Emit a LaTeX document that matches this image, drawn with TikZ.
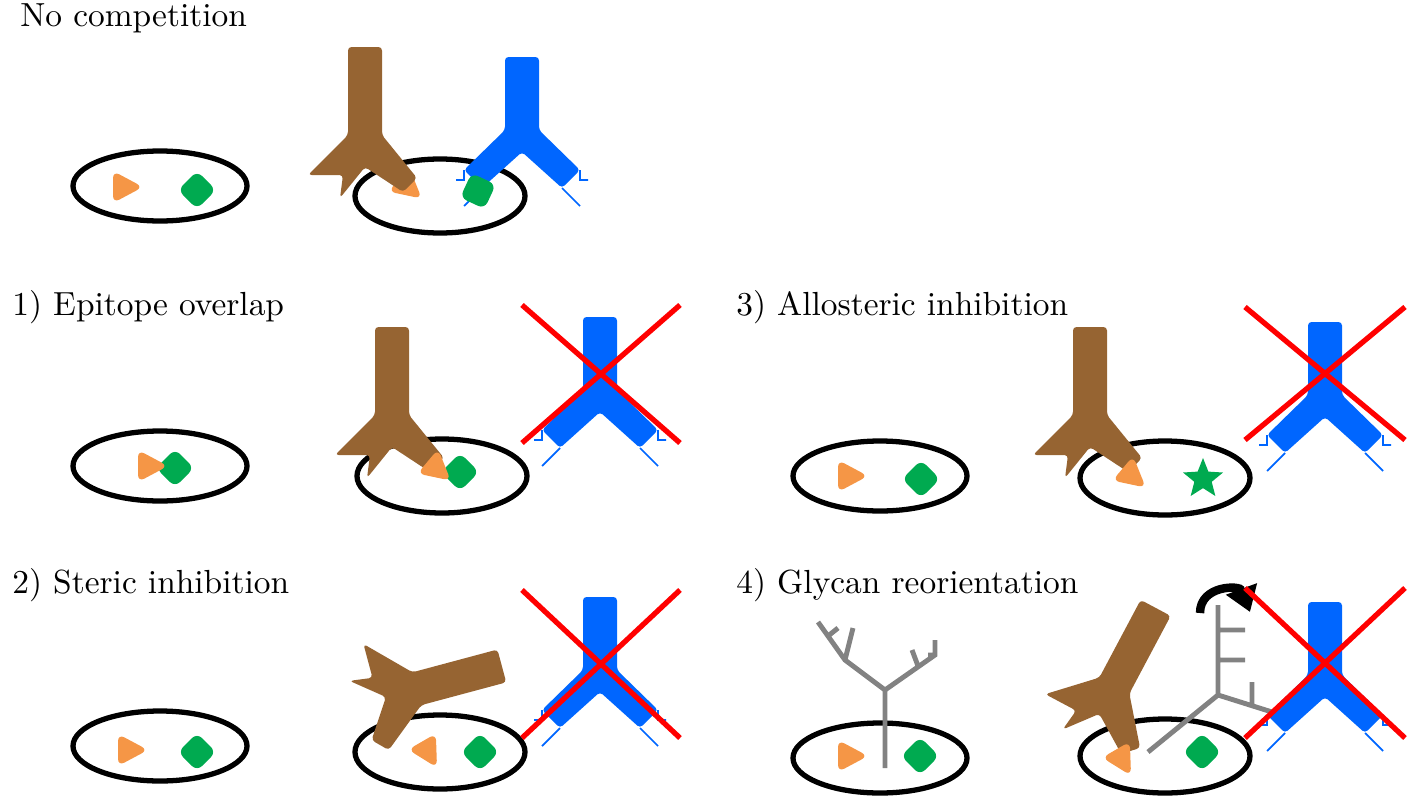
\documentclass[tikz,border=0pt]{standalone}
\usepackage{tikz}
\usetikzlibrary{arrows.meta, shapes.geometric}
\definecolor{abbrown}{RGB}{150,100,50}
\definecolor{abblue}{RGB}{0,102,255}
\definecolor{eporange}{RGB}{245,150,70}
\definecolor{epgreen}{RGB}{0,170,80}
\definecolor{glygray}{RGB}{130,130,130}
\tikzset{
  cell/.style={draw=black, line width=1.5pt},
  nox/.style={draw=red, line width=1.5pt},
  glycan/.style={draw=glygray, line width=1.4pt},
  title/.style={anchor=west, font=\fontsize{9.5}{11}\selectfont},
  pics/brownab/.style={code={
    \fill[abbrown, rounded corners=1pt] (-17,-93) -- (17,-93) -- (17,-5) -- (52,38) -- (38,52)
      -- (0,27) -- (-25,58) -- (-22,35) -- (-57,35) -- (-17,-5) -- cycle;}},
  pics/blueab/.style={code={
    \fill[abblue, rounded corners=1pt] (-17,-83) -- (17,-83) -- (17,-10) -- (58,30) -- (40,48)
      -- (0,12) -- (-40,48) -- (-58,30) -- (-17,-10) -- cycle;
    \draw[abblue, line width=0.5pt] (58,30) -- (58,40) -- (66,40) (40,48) -- (58,66)
      (-58,30) -- (-58,40) -- (-66,40) (-40,48) -- (-58,66);}},
  pics/tri/.style={code={
    \fill[eporange, rounded corners=2pt] (-12,-16) -- (18,0) -- (-12,16) -- cycle;}},
  pics/dia/.style={code={
    \fill[epgreen, rounded corners=2pt] (0,-19) -- (19,0) -- (0,19) -- (-19,0) -- cycle;}}
}
\begin{document}
\begin{tikzpicture}[x=0.01cm, y=-0.01cm]
\useasboundingbox (0,0) rectangle (1412,800);
% titles
\node[title] (t0) at (8,18) {No competition};
\node[title] (t1) at (0,307) {1) Epitope overlap};
\node[title] (t2) at (0,585) {2) Steric inhibition};
\node[title] (t3) at (724,307) {3) Allosteric inhibition};
\node[title] (t4) at (724,585) {4) Glycan reorientation};

% no competition
\draw[cell] (160,186) ellipse (87 and 35);
\pic at (125,187) {tri};
\pic at (197,190) {dia};
\draw[cell] (440,196) ellipse (85 and 37);
\pic[rotate=-40] at (408,187) {tri};
\pic at (522,140) {blueab};
\pic[rotate=20] at (478,191) {dia};
\pic at (365,140) {brownab};

% 1) epitope overlap
\draw[cell] (160,466) ellipse (87 and 35);
\pic at (175,468) {dia};
\pic at (150,466) {tri};
\draw[cell] (442,476) ellipse (85 and 37);
\pic at (392,420) {brownab};
\pic at (460,472) {dia};
\pic[rotate=-40] at (437,469) {tri};
\pic at (600,400) {blueab};
\draw[nox] (522,305) -- (680,443) (522,443) -- (680,305);

% 2) steric inhibition
\draw[cell] (160,746) ellipse (87 and 35);
\pic at (130,750) {tri};
\pic at (197,752) {dia};
\draw[cell] (440,752) ellipse (85 and 37);
\pic[rotate=-60] at (428,752) {tri};
\pic at (480,752) {dia};
\pic[rotate=-75] at (412,690) {brownab};
\pic at (600,680) {blueab};
\draw[nox] (522,590) -- (680,738) (522,738) -- (680,590);

% 3) allosteric inhibition
\draw[cell] (880,476) ellipse (87 and 35);
\pic at (850,476) {tri};
\pic at (921,479) {dia};
\draw[cell] (1165,478) ellipse (85 and 37);
\pic at (1090,420) {brownab};
\pic[rotate=-40] at (1132,476) {tri};
\node[star, star points=5, star point ratio=2.3, fill=epgreen, inner sep=0pt,
      minimum size=0.42cm] (star) at (1203,479) {};
\pic at (1325,405) {blueab};
\draw[nox] (1245,307) -- (1405,440) (1245,440) -- (1405,307);

% 4) glycan reorientation
\draw[cell] (880,758) ellipse (87 and 35);
\pic at (850,756) {tri};
\pic at (920,756) {dia};
\draw[glycan] (885,768) -- (885,690) -- (845,660) -- (818,622)
  (845,660) -- (853,628) (885,690) -- (935,655) -- (935,640) (918,666) -- (912,650)
  (828,636) -- (838,628) (935,655) -- (928,655);
\draw[cell] (1165,756) ellipse (85 and 37);
\pic[rotate=-28] at (1112,690) {brownab};
\pic[rotate=-60] at (1122,760) {tri};
\pic at (1202,752) {dia};
\draw[glycan] (1148,752) -- (1218,695) -- (1218,605) (1218,630) -- (1245,630)
  (1218,660) -- (1245,660) (1218,695) -- (1272,712) (1252,707) -- (1252,682);
\draw[line width=2.4pt, -{Triangle[length=7pt, width=9pt]}] (1200,613) .. controls (1200,585) and (1240,585) .. (1250,612);
\pic at (1325,685) {blueab};
\draw[nox] (1245,588) -- (1405,738) (1245,738) -- (1405,588);
\end{tikzpicture}
\end{document}
